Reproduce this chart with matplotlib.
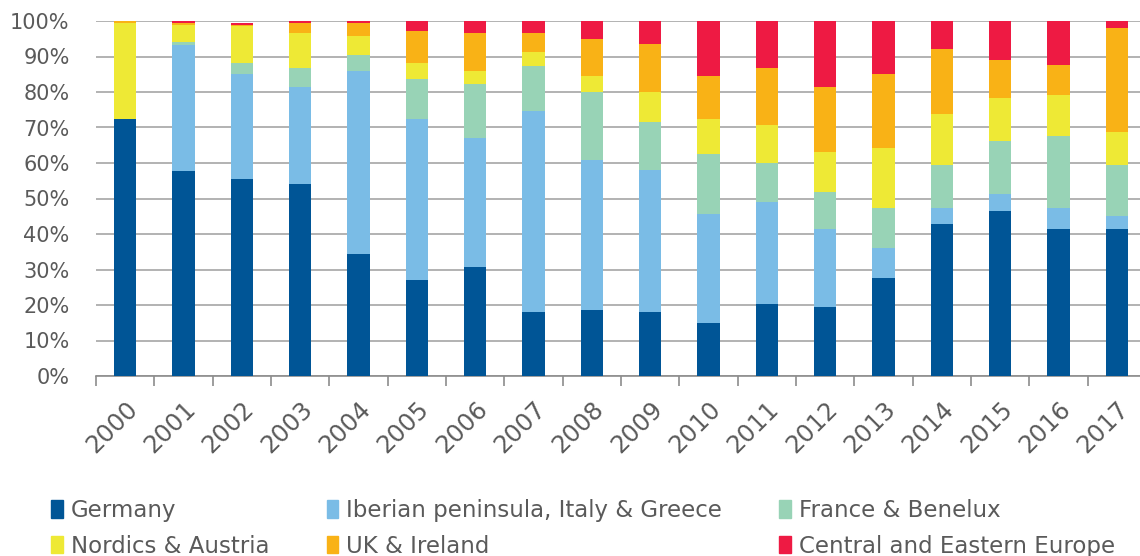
import numpy as np
import matplotlib
matplotlib.use('Agg')
from matplotlib import pyplot as plt
from matplotlib.patches import Patch

plt.rcParams['font.family'] = ['DejaVu Sans']

years = [str(y) for y in range(2000, 2018)]

# share of each region, in %
germany  = [72.3, 57.8, 55.6, 54.1, 34.4, 27.1, 30.7, 17.9, 18.6, 17.9, 14.8, 20.2, 19.4, 27.6, 42.9, 46.5, 41.3, 41.3]
iberia   = [0.0, 35.5, 29.5, 27.3, 51.5, 45.2, 36.3, 56.7, 42.3, 40.0, 30.9, 28.7, 21.9, 8.5, 4.5, 4.7, 6.1, 3.9]
france   = [0.0, 0.8, 3.1, 5.3, 4.6, 11.3, 15.2, 12.7, 19.0, 13.6, 16.7, 11.2, 10.6, 11.3, 12.0, 15.1, 20.3, 14.2]
nordics  = [27.2, 4.8, 10.5, 9.9, 5.3, 4.6, 3.7, 3.9, 4.5, 8.4, 9.9, 10.7, 11.3, 16.7, 14.5, 12.1, 11.4, 9.2]
uk       = [0.5, 0.6, 0.2, 2.9, 3.7, 9.1, 10.6, 5.3, 10.5, 13.6, 12.1, 15.9, 18.2, 21.1, 18.1, 10.6, 8.4, 29.4]
cee      = [0.0, 0.5, 0.6, 0.5, 0.5, 2.7, 3.5, 3.5, 5.1, 6.5, 15.6, 13.3, 18.6, 14.8, 8.0, 11.0, 12.5, 2.0]

labels = ['Germany', 'Iberian peninsula, Italy & Greece', 'France & Benelux',
          'Nordics & Austria', 'UK & Ireland', 'Central and Eastern Europe']
series = [germany, iberia, france, nordics, uk, cee]
colors = ['#005596', '#7abce6', '#98d3b6', '#eee935', '#f9b216', '#ee1a43']
txtcol = '#5a5a5a'

fig = plt.figure(figsize=(11.4, 5.56), dpi=100)
ax = fig.add_axes([96/1140, 180/556, 1050/1140, 355/556])

x = np.arange(len(years))
bottom = np.zeros(len(years))
for vals, c in zip(series, colors):
    vals = np.array(vals)
    ax.bar(x, vals, 0.38, bottom=bottom, color=c, zorder=3)
    bottom += vals

ax.set_xlim(-0.5, len(years) - 0.5)
ax.set_ylim(0, 100)
ax.set_yticks(np.arange(0, 101, 10))
ax.set_yticklabels(['%d%%' % v for v in range(0, 101, 10)])
ax.yaxis.grid(True, color='#a6a6a6', linewidth=1.2, zorder=0)
ax.tick_params(axis='y', length=0, pad=19, labelsize=15, labelcolor=txtcol)

ax.set_xticks(x)
ax.set_xticklabels(years, rotation=45, ha='right', rotation_mode='anchor')
ax.tick_params(axis='x', which='major', length=0, pad=15, labelsize=17.5, labelcolor=txtcol)
ax.set_xticks(np.arange(-0.5, len(years), 1), minor=True)
ax.tick_params(axis='x', which='minor', length=7, width=1.2, color='#8c8c8c')

for s in ['left', 'right', 'top']:
    ax.spines[s].set_visible(False)
ax.spines['bottom'].set_color('#8c8c8c')
ax.spines['bottom'].set_linewidth(1.2)

handles = [Patch(color=c) for c in colors]
order = [0, 3, 1, 4, 2, 5]
fig.legend([handles[i] for i in order], [labels[i] for i in order], ncol=3,
           loc='center left', bbox_to_anchor=(40/1140, 0.05), frameon=False,
           borderpad=0, fontsize=16.5, handlelength=0.5, handleheight=0.8,
           handletextpad=0.35, columnspacing=2.5, labelspacing=0.55,
           labelcolor=txtcol)

fig.savefig('out.png', dpi=100)
